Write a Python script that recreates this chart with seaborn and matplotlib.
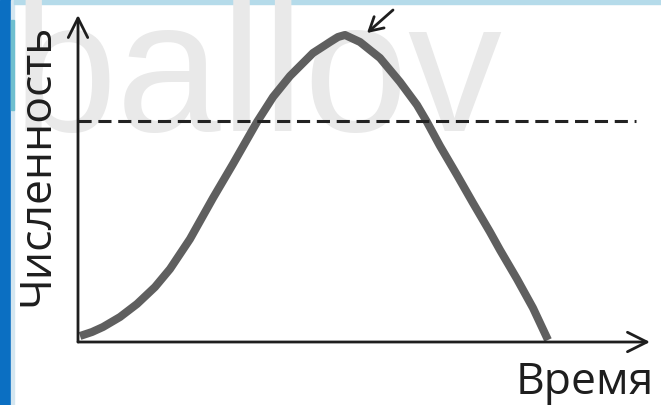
import matplotlib
matplotlib.use("Agg")
import matplotlib.pyplot as plt
from matplotlib.patches import Rectangle
import seaborn as sns

# Population curve (arbitrary units)
time = [2, 14, 25, 42, 59, 77, 92, 112, 135, 155, 179, 195, 212, 235, 252, 260,
        267, 282, 302, 322, 339, 349, 362, 379, 395, 412, 422, 439, 455, 470]
count = [6, 10, 15, 25, 38, 55, 73, 103, 144, 178, 220, 245, 266, 289, 300, 305,
         307, 300, 284, 260, 237, 220, 196, 167, 139, 110, 92, 63, 34, 2]
capacity = 221          # dashed level
capacity_end = 558
x_max, y_max = 572, 327
peak_arrow_tail = (315, 332)
peak_arrow_head = (289, 309)

y_label = "Численность"
x_label = "Время"
watermark = "ballov"

sns.set_style("white")
plt.rcParams["font.family"] = ["Open Sans", "DejaVu Sans"]

W, H = 661, 405
fig = plt.figure(figsize=(W / 100, H / 100), dpi=100)

# page decoration: blue strip on the left, light band on top
fig.patches.append(Rectangle((0, 0), 11 / W, 1, transform=fig.transFigure,
                             color="#0b6fc2", zorder=-5))
fig.patches.append(Rectangle((11 / W, 0), 3 / W, 1, transform=fig.transFigure,
                             color="#d4e6f0", zorder=-5))
fig.patches.append(Rectangle((11 / W, 1 - 110 / H), 3 / W, 90 / H,
                             transform=fig.transFigure, color="#6fbfcf", zorder=-5))
fig.patches.append(Rectangle((14 / W, 1 - 4 / H), 1, 4 / H, transform=fig.transFigure,
                             color="#b5dbea", zorder=-5))

# watermark
fig.text(13 / W, 1 - 131 / H, watermark, fontsize=135, color="#e9e9e9",
         family="Liberation Sans", ha="left", va="baseline", zorder=-4)

ax = fig.add_axes([78 / W, 63 / H, 572 / W, 327 / H])
ax.patch.set_alpha(0)

sns.lineplot(x=time, y=count, ax=ax, color="#5f5f5f", linewidth=5.8,
             solid_joinstyle="round", solid_capstyle="butt", sort=False)
ax.plot([0, capacity_end], [capacity, capacity], color="#222222", linewidth=2.2,
        dashes=(4.3, 2.2))

ax.set_xlim(0, x_max)
ax.set_ylim(0, y_max)
ax.set_xticks([])
ax.set_yticks([])
for s in ax.spines.values():
    s.set_visible(False)

# axes drawn as arrows
arrow = dict(arrowstyle="->,head_length=0.7,head_width=0.35", mutation_scale=20,
             color="#1e1e1e", linewidth=2.0, shrinkA=0, shrinkB=0)
ax.annotate("", xy=(1, 0), xytext=(0, 0), xycoords="axes fraction",
            textcoords="axes fraction", arrowprops=arrow, annotation_clip=False)
ax.annotate("", xy=(0, 1), xytext=(0, 0), xycoords="axes fraction",
            textcoords="axes fraction", arrowprops=arrow, annotation_clip=False)

# arrow pointing at the peak
ax.annotate("", xy=peak_arrow_head, xytext=peak_arrow_tail,
            arrowprops=dict(arrowstyle="->,head_length=0.8,head_width=0.45",
                            mutation_scale=12, color="#1e1e1e", linewidth=2.0,
                            shrinkA=0, shrinkB=0), annotation_clip=False)

fig.text(37 / W, 1 - 165 / H, y_label, rotation=90, fontsize=32, color="#1e1e1e",
         ha="center", va="center")
fig.text(585 / W, 1 - 394 / H, x_label, fontsize=32, color="#1e1e1e",
         ha="center", va="baseline")

fig.savefig("out.png", dpi=100)
